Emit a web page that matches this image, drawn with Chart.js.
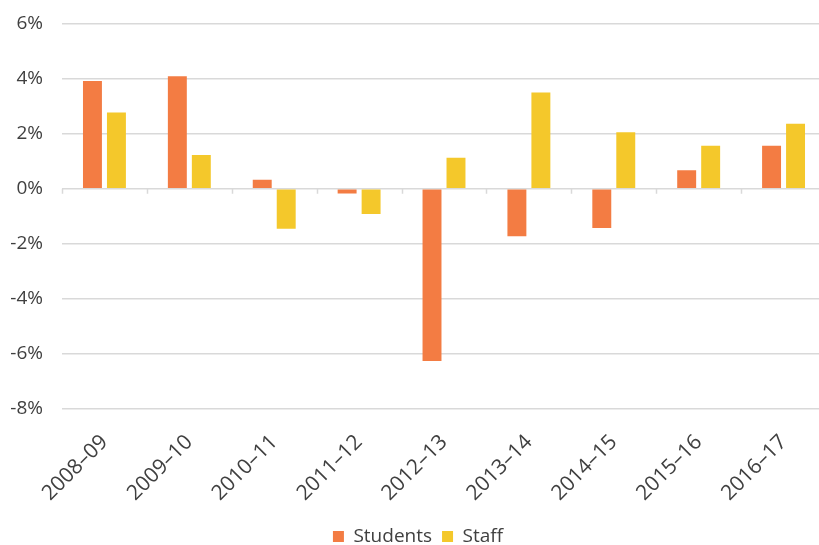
<!DOCTYPE html>
<html>
<head>
  <meta name="viewport" content="width=device-width, initial-scale=1.0">
  <title>Students and staff growth</title>
  <script src="https://cdn.jsdelivr.net/npm/chart.js"></script>
  <style>
    body {
      margin: 0;
      padding: 0;
      overflow: hidden;
      background: #fff;
    }
    canvas {
      display: block;
    }
  </style>
</head>
<body>
  <canvas id="myChart" width="828" height="545"></canvas>

  <script>
    // data
    const years = ['2008–09', '2009–10', '2010–11', '2011–12', '2012–13', '2013–14', '2014–15', '2015–16', '2016–17'];
    const students = [3.91, 4.08, 0.32, -0.18, -6.26, -1.73, -1.43, 0.67, 1.56];
    const staff = [2.77, 1.22, -1.46, -0.92, 1.12, 3.49, 2.05, 1.56, 2.36];
    const yTicks = [-8, -6, -4, -2, 0, 2, 4, 6];

    const textColor = '#404040';
    const gridColor = '#d9d9d9';
    Chart.defaults.font.family = '"Open Sans", "Liberation Sans", sans-serif';
    Chart.defaults.font.size = 19;
    Chart.defaults.color = textColor;

    // small tick marks along the zero line, at the category boundaries
    const zeroTicks = {
      id: 'zeroTicks',
      beforeDatasetsDraw(chart) {
        const x = chart.scales.x;
        const y0 = chart.scales.y.getPixelForValue(0);
        const ctx = chart.ctx;
        const half = (x.getPixelForValue(1) - x.getPixelForValue(0)) / 2;
        ctx.save();
        ctx.strokeStyle = gridColor;
        ctx.lineWidth = 1.5;
        ctx.beginPath();
        for (let i = 0; i <= years.length; i++) {
          const px = Math.round(x.getPixelForValue(0) - half + i * half * 2) + 0.5;
          ctx.moveTo(px, y0);
          ctx.lineTo(px, y0 + 5);
        }
        ctx.stroke();
        ctx.restore();
      }
    };

    const ctx = document.getElementById('myChart').getContext('2d');
    const chart = new Chart(ctx, {
      type: 'bar',
      data: {
        labels: years,
        datasets: [{
          label: 'Students',
          data: students,
          backgroundColor: '#F37C43',
          categoryPercentage: 0.565,
          barPercentage: 0.79
        }, {
          label: 'Staff',
          data: staff,
          backgroundColor: '#F4C82B',
          categoryPercentage: 0.565,
          barPercentage: 0.79
        }]
      },
      options: {
        responsive: false,
        animation: false,
        layout: {
          padding: { left: 10, right: 2, top: 23.5, bottom: -11 }
        },
        plugins: {
          legend: {
            position: 'bottom',
            labels: {
              boxWidth: 11,
              boxHeight: 11,
              padding: 10,
              color: textColor
            }
          },
          tooltip: { enabled: false }
        },
        scales: {
          x: {
            grid: { display: false },
            border: { display: false },
            ticks: {
              minRotation: 45,
              maxRotation: 45,
              color: textColor,
              font: { size: 21 },
              padding: 13
            },
            afterFit(scale) {
              // let the first rotated label hang over the left margin
              scale.paddingLeft = 0;
              scale.paddingRight = 0;
              scale.height -= 2;
            }
          },
          y: {
            min: yTicks[0],
            max: yTicks[yTicks.length - 1],
            afterBuildTicks(scale) {
              scale.ticks = yTicks.map(v => ({ value: v }));
            },
            grid: {
              color: gridColor,
              lineWidth: 1.5,
              drawTicks: false
            },
            border: { display: false },
            ticks: {
              padding: 19,
              color: textColor,
              callback: v => v + '%'
            },
            afterFit(scale) {
              scale.width = 52;
              scale.paddingTop = 0;
              scale.paddingBottom = 0;
            }
          }
        }
      },
      plugins: [zeroTicks]
    });
  </script>
</body>
</html>
